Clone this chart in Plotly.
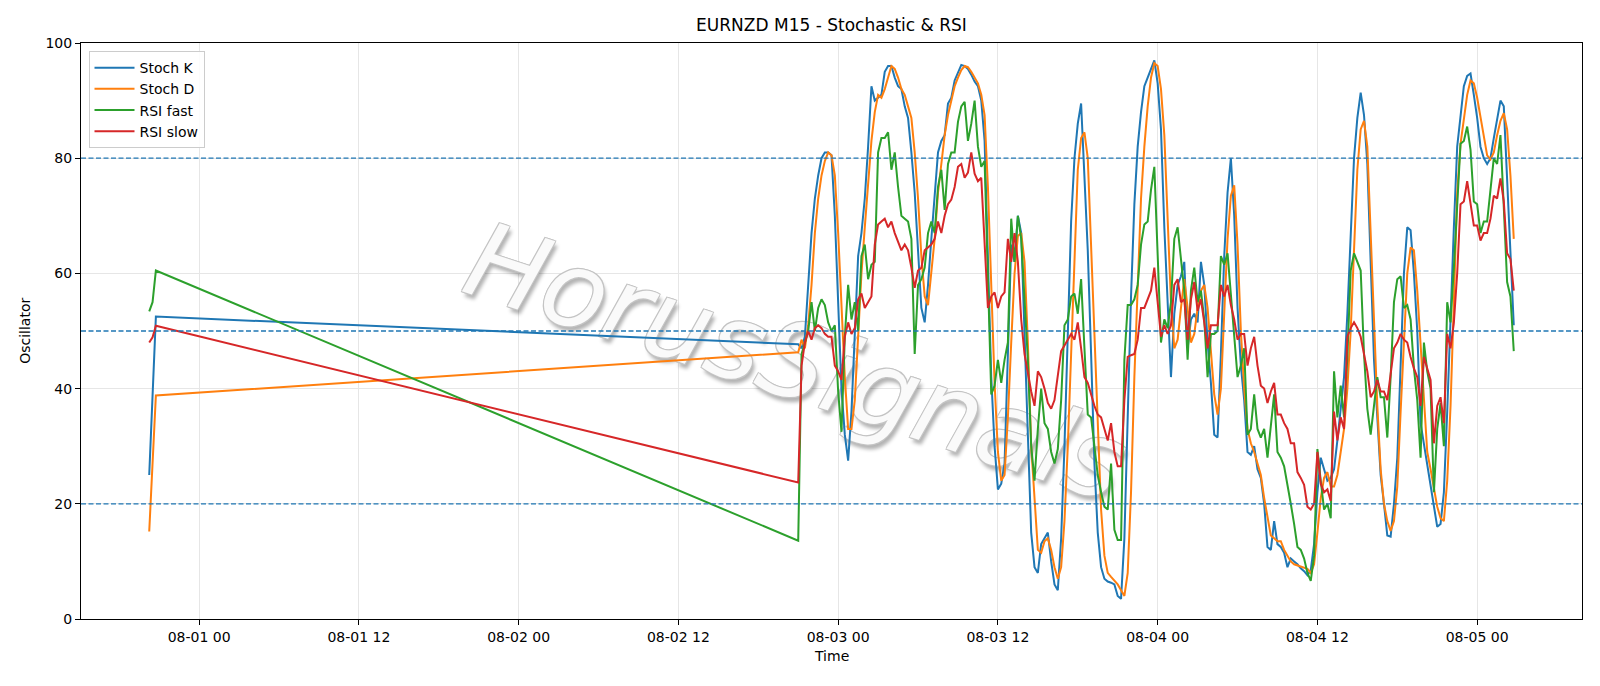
import pandas as pd
import plotly.graph_objects as go

# ---------------- data ----------------
head_start = "2026-07-31 20:15"   # short session before the weekend gap
body_start = "2026-08-02 21:00"   # market re-open
freq = "15min"

stoch_k_head = [25.0, 38.8, 52.5]
stoch_d_head = [15.2, 27.0, 38.8]
rsi_fast_head = [53.4, 55.0, 60.5]
rsi_slow_head = [48.0, 48.9, 50.9]

stoch_k = [
    47.7, 47, 49, 58, 67, 73, 77, 80, 81, 81, 80.5, 70, 55, 40, 32, 27.5, 36, 50, 63, 67,
    73, 82, 92.5, 90, 90.5, 91, 95, 96, 96, 94, 92.5, 92, 89, 87, 81, 74,
    64, 54, 51.5, 58, 66, 74, 81, 83, 84, 89.5, 90.5, 93.5, 95, 96.2, 96, 95.5, 94.5, 93.3,
    92.5, 90, 83, 62, 42, 30, 22.5, 23.5, 27, 46, 65, 62, 70, 67, 48, 32, 15, 9,
    8, 13, 14, 15, 10, 6, 5, 14, 30, 48, 69, 80, 86, 89.5, 77, 64, 46, 27, 15, 9,
    7, 6.5, 6.3, 6, 4, 3.5, 14, 36, 56, 72, 82, 88, 92.5, 94, 95.5, 97,
    93, 85, 68, 55, 42, 53, 58, 59.5, 62, 47, 52, 53, 51.5, 62, 58, 48, 41, 32,
    31.5, 46, 63, 74, 80, 70, 54, 44, 38, 29, 28.5, 30, 26, 24.5, 20, 12.5, 12, 17,
    13, 12.5, 11.5, 9, 10.5, 10, 9.5, 8.8, 8.3, 7.6, 8.5, 13, 22, 28, 26, 24, 24.5, 26,
    31, 36, 42, 53, 66, 80, 87, 91.4, 87.5, 79, 62, 45, 35, 25, 20, 14.5, 14.3, 20,
    28, 46, 60, 68, 67.5, 60, 50, 34, 30.5, 26.5, 23, 20, 16, 16.5, 22, 36, 53, 68,
    82, 87, 92.5, 94.3, 94.7, 91, 87, 82, 80, 79, 80, 83.5, 86.5, 90, 89, 76, 62, 51,
]
stoch_d = [
    46.3, 48.5, 47, 51, 58, 67, 73, 77, 79.5, 81, 80.5, 77, 67, 55, 42, 33, 33, 38, 50, 60,
    68, 75, 83, 88, 91, 90.5, 92, 94, 96, 95.5, 94, 92, 91, 89, 87, 81,
    73, 63, 56, 54.5, 60, 66, 74, 79, 84, 87.5, 90, 92.5, 94, 95.3, 96, 95.8, 95, 94,
    93, 91, 87.5, 75, 57, 41, 29, 24, 25, 35, 48, 60, 66.5, 67, 62, 48, 30, 20,
    12, 11.5, 13.5, 14, 12, 9, 7, 9, 17, 30, 46, 65, 78, 83.5, 84.5, 80, 64, 48,
    32, 19, 11, 8, 7.3, 6.6, 6, 5, 4, 8, 22, 42, 58, 73, 82, 89, 94, 96.5,
    96, 92, 84, 70, 55, 47, 48.5, 54, 59, 54, 48, 49.5, 54, 57, 58, 54, 46, 39,
    35.5, 40, 53, 66, 73.5, 75.3, 65, 50, 40, 33, 30.5, 29, 27, 25, 21, 17.5, 14.5, 14,
    13.5, 13.5, 12, 11, 10, 9.5, 9.3, 9, 8.8, 8.7, 8, 9.5, 15, 21, 24.5, 25.5, 23, 23,
    25, 29, 33, 40, 50, 64, 78, 85, 86.5, 82, 67, 52, 37, 26, 20, 17, 15.3, 17,
    23, 36, 48, 60, 64.5, 64, 57, 47, 37, 29, 26, 23, 19.5, 17.5, 17, 24, 37, 55,
    74, 82.5, 87, 91, 93.5, 93, 90.5, 87, 83.5, 80.5, 79.8, 81, 84, 86.5, 87.8, 85, 77, 66,
]
rsi_fast = [
    13.6, 46, 48, 50, 55, 50, 54, 55.5, 54.5, 51.5, 50, 51, 39.5, 32.5, 49, 58, 52, 55, 50, 63,
    65, 59, 61.5, 62, 81, 83.5, 83.5, 84.5, 78, 81, 75, 70, 69.5, 69, 66, 46,
    58, 59, 61, 67, 69, 67, 75, 78, 71, 79, 81, 81, 86.3, 89, 89.8, 83, 86, 90,
    82, 78.5, 79.5, 60, 39, 40.5, 45, 41, 45, 48, 69.5, 62, 70, 66, 55, 45, 30, 24,
    33, 40, 34, 33, 29, 27, 29.5, 38, 51, 52, 56, 56.5, 53, 59, 47, 35.5, 35, 30,
    25, 22, 19.5, 19, 27, 15.5, 13.7, 13.7, 45, 54.5, 54.5, 55.5, 58, 65, 68.5, 69, 74.5, 78.5,
    64, 48, 52, 50.5, 55, 66, 68, 62, 57, 45, 57, 61, 55, 57, 52, 42, 49.5, 49.5,
    50, 63, 61.5, 63.5, 56, 49.5, 42, 44, 47, 32, 33, 39, 33, 31.5, 33, 28, 33, 39,
    29, 28, 26.5, 23.5, 20, 16.5, 12.5, 12, 10.5, 8, 6.6, 11, 29.5, 24, 19, 20, 17.5, 43,
    35, 40.5, 35, 45.5, 60.5, 63.5, 62, 60.5, 46, 36.5, 32, 37, 42, 38.5, 38.5, 31.5, 42, 55,
    59, 59.5, 54, 54.5, 52, 43.5, 38, 28, 48, 43, 40, 22, 33, 37.5, 30, 55, 51.5, 61,
    72.5, 82.5, 83, 85.5, 81.5, 72.5, 72, 67, 69, 69, 74.5, 80, 79, 84, 71.5, 58.5, 56, 46.5,
]
rsi_slow = [
    23.7, 44, 48, 50, 48.5, 50.5, 51, 50.5, 49.5, 49, 49, 44, 43, 41.5, 49, 51.5, 49.5, 50.5, 55.5, 56.5,
    54, 55, 56, 65, 68.5, 69, 69.5, 68, 69, 67, 65.5, 64, 65, 64, 61, 57.5,
    60.5, 61, 64, 64.5, 65, 66, 69, 67, 70, 72, 72.8, 75, 78.5, 79, 76.6, 77.5, 81, 77.3,
    76, 76.6, 66, 54, 56, 56.7, 54, 56, 56.7, 66, 62, 67, 62, 52, 46, 42.5, 39.5, 37,
    43, 42, 40, 37.5, 36.5, 38, 42, 46.5, 47.5, 48.5, 49.5, 48.5, 51.5, 47, 42, 41, 39, 37,
    35.5, 35, 33, 31, 34, 29, 26.5, 26.5, 38, 45.5, 45.8, 46, 48.5, 54, 54, 55.5, 57, 61,
    55, 49, 51, 49.5, 51, 58, 59, 55, 55.5, 48.5, 55.5, 58.5, 53.5, 55.5, 51.5, 47, 51, 51,
    51, 58, 56, 58, 54.5, 52, 48.5, 49.5, 49.5, 44, 47, 49, 44, 40.5, 40, 37.5, 39.5, 41,
    35.5, 35.5, 34, 33, 30.5, 30.5, 25.5, 24.5, 23.3, 19.5, 19, 20, 29, 23.5, 22, 22.5, 20.5, 36,
    31, 35, 33, 49, 50.5, 51.5, 50.5, 49, 46, 43, 38.5, 39.5, 41.5, 39.5, 39.5, 38, 42.5, 47,
    48, 49.5, 48.5, 48, 45.5, 43.5, 42, 37, 45.5, 43.5, 41.5, 30.5, 37, 38.5, 34, 49.5, 47, 51.5,
    60, 72, 72.5, 76, 72, 68.3, 68.3, 65.7, 67, 67, 69.5, 73.5, 73, 76.5, 72.5, 63.5, 62.5, 57,
]

levels = [20, 50, 80]
x_range = ["2026-07-31 15:07:30", "2026-08-05 07:52:30"]
tick_start = "2026-08-01 00:00"
tick_count = 9
watermark_text = "HorusSignals"

# ---------------- build ----------------
t_head = pd.date_range(head_start, periods=len(stoch_k_head), freq=freq)
t_body = pd.date_range(body_start, periods=len(stoch_k), freq=freq)
times = list(t_head) + list(t_body)
tickvals = list(pd.date_range(tick_start, periods=tick_count, freq="12h"))

series = [
    ("Stoch K", stoch_k_head + stoch_k, "#1f77b4"),
    ("Stoch D", stoch_d_head + stoch_d, "#ff7f0e"),
    ("RSI fast", rsi_fast_head + rsi_fast, "#2ca02c"),
    ("RSI slow", rsi_slow_head + rsi_slow, "#d62728"),
]

FONT = "DejaVu Sans"
fig = go.Figure()

# watermark: rotated text carried by an invisible bar so it sits beneath the lines
fig.add_trace(go.Bar(
    x=[pd.Timestamp("2026-08-02 20:50")], y=[89.2], width=[70 * 3600 * 1000],
    text=[watermark_text], textposition="inside", insidetextanchor="middle",
    textangle=18, constraintext="none",
    textfont=dict(family=FONT, size=105, style="italic", color="rgba(250,250,250,1)",
                  shadow="-1px -1px 0 #c4c4c4, 1px -1px 0 #c4c4c4, -1px 1px 0 #c4c4c4, "
                         "1px 1px 0 #c4c4c4, 4px 4px 4px rgba(0,0,0,0.3)"),
    marker=dict(color="rgba(0,0,0,0)", line=dict(width=0)),
    hoverinfo="skip", showlegend=False,
))

for name, vals, color in series:
    fig.add_trace(go.Scatter(x=times, y=vals, mode="lines", name=name,
                             line=dict(color=color, width=2)))

for lv in levels:
    fig.add_shape(type="line", xref="paper", x0=0, x1=1, yref="y", y0=lv, y1=lv,
                  line=dict(color="#1f77b4", width=1.3, dash="5px,2.5px"))

fig.update_layout(
    width=1600, height=686,
    margin=dict(l=81, r=18, t=43, b=67),
    paper_bgcolor="white", plot_bgcolor="white",
    font=dict(family=FONT, size=14, color="black"),
    title=dict(text="EURNZD M15 - Stochastic & RSI", x=0.5, xref="paper", xanchor="center",
               y=1 - 25.5 / 686, yref="container", yanchor="middle",
               font=dict(family=FONT, size=17, color="black")),
    showlegend=True,
    legend=dict(x=0.005, y=0.986, xanchor="left", yanchor="top",
                bgcolor="rgba(255,255,255,0.85)", bordercolor="#cccccc", borderwidth=1,
                font=dict(family=FONT, size=14), tracegroupgap=0, itemwidth=40),
    xaxis=dict(range=x_range, tickvals=tickvals, tickformat="%m-%d %H",
               showgrid=True, gridcolor="#e6e6e6", gridwidth=1,
               showline=True, linecolor="black", linewidth=1, mirror=True,
               ticks="outside", ticklen=5, tickwidth=1, tickcolor="black",
               zeroline=False, tickfont=dict(family=FONT, size=14)),
    yaxis=dict(range=[0, 100], tickvals=[0, 20, 40, 60, 80, 100],
               showgrid=True, gridcolor="#e6e6e6", gridwidth=1,
               showline=True, linecolor="black", linewidth=1, mirror=True,
               ticks="outside", ticklen=5, tickwidth=1, tickcolor="black",
               zeroline=False, tickfont=dict(family=FONT, size=14)),
)

fig.add_annotation(text="Time", xref="paper", yref="paper", x=0.5, y=-0.0649,
                   xanchor="center", yanchor="middle", showarrow=False,
                   font=dict(family=FONT, size=14))
fig.add_annotation(text="Oscillator", xref="paper", yref="paper", x=-0.0374, y=0.5,
                   xanchor="center", yanchor="middle", showarrow=False, textangle=-90,
                   font=dict(family=FONT, size=14))

fig.write_html("out.html", config={"displayModeBar": False},
               post_script="document.body.style.margin='0px';")
